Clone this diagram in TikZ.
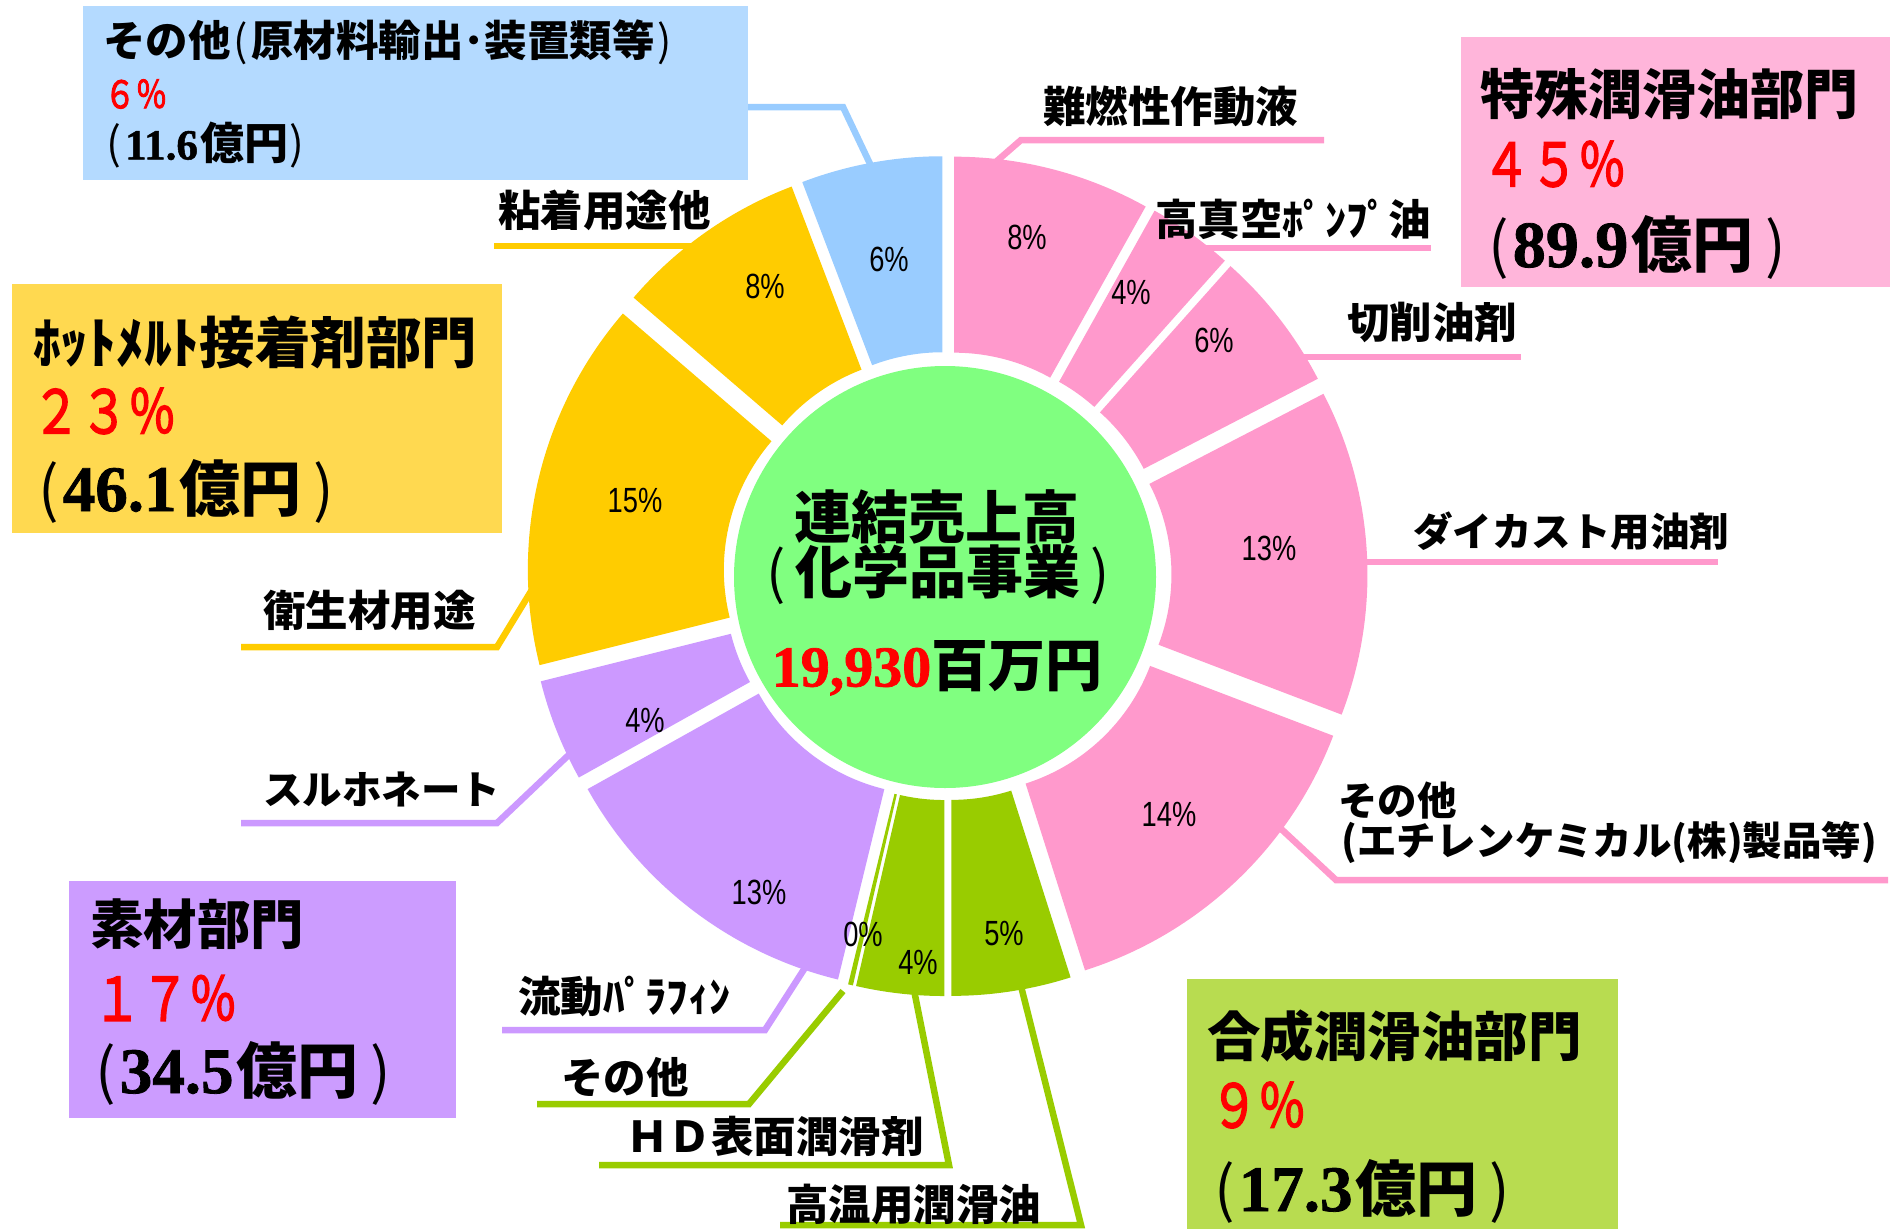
\documentclass[tikz,border=0pt]{standalone}
\usepackage{fontspec}
\usepackage{graphicx}
\newfontfamily\jp{Noto Sans CJK JP}
\newfontfamily\jpmed{Noto Sans CJK JP}[FakeBold=2.5]
\newfontfamily\tnrb{Liberation Serif Bold}[FakeBold=1.2]
\newfontfamily\arl{Liberation Sans}
\definecolor{pinkS}{HTML}{FF99CC}
\definecolor{pinkB}{HTML}{FFB5DA}
\definecolor{yelS}{HTML}{FFCC00}
\definecolor{yelB}{HTML}{FFD950}
\definecolor{purS}{HTML}{CC99FF}
\definecolor{purB}{HTML}{CC9CFF}
\definecolor{grnS}{HTML}{99CC00}
\definecolor{grnB}{HTML}{B8DC50}
\definecolor{bluS}{HTML}{99CCFF}
\definecolor{bluB}{HTML}{B4DAFF}
\definecolor{ctrG}{HTML}{80FF80}
\newcommand\fsz[1]{\fontsize{#1}{#1}\selectfont}
% annular sector, cumulative percent #1 -> #2, exploded
\newcommand\pieslice[3]{%
  \pgfmathsetmacro\ta{-90+3.6*#1}%
  \pgfmathsetmacro\tb{-90+3.6*#2}%
  \pgfmathsetmacro\tm{(\ta+\tb)/2}%
  \pgfmathsetmacro\sx{947.3+27*cos(\tm)}%
  \pgfmathsetmacro\sy{576+27*sin(\tm)}%
  \fill[#3] plot[domain=\ta:\tb,samples=90] ({\sx+393.2*cos(\x)},{\sy+393.2*sin(\x)})
     -- plot[domain=\tb:\ta,samples=60] ({\sx+197.2*cos(\x)},{\sy+197.2*sin(\x)}) -- cycle;%
}
% (amount 億円): #1 number, #2 number size, #3 kanji size, #4 kern before ")"
\newcommand\okuline[4]{{\jp\fsz{#3}(\kern4pt}{\tnrb\fsz{#2}#1}{\jp\bfseries\fsz{#3}\kern3pt 億円\kern#4}{\jp\fsz{#3})}}
\begin{document}
\begin{tikzpicture}[x=1pt,y=-1pt,
  lbl/.style={anchor=west,inner sep=0pt,font=\jp\bfseries\fsz{42.5}},
  lblk/.style={anchor=west,inner sep=0pt,font=\jp\bfseries\fsz{39.5}},
  pct/.style={inner sep=0pt,font=\arl\fsz{35}},
  lead/.style={line width=6.5pt},
  boxtitle/.style={anchor=west,inner sep=0pt,font=\jp\bfseries\fsz{53.5}},
  redpct/.style={anchor=west,inner sep=0pt,text=red,font=\jpmed\fsz{60}},
  amount/.style={anchor=west,inner sep=0pt},
  panel/.style={anchor=north west,inner sep=0pt,outer sep=0pt}]
\useasboundingbox (0,0) rectangle (1890,1229);
\fill[white] (0,0) rectangle (1890,1229);

% ---------- group boxes ----------
\node[panel,fill=bluB,minimum width=665,minimum height=174] (boxblue) at (83,6) {};
\node[panel,fill=pinkB,minimum width=429,minimum height=250] (boxpink) at (1461,37) {};
\node[panel,fill=yelB,minimum width=490,minimum height=249] (boxyel) at (12,284) {};
\node[panel,fill=purB,minimum width=387,minimum height=237] (boxpur) at (69,881) {};
\node[panel,fill=grnB,minimum width=431,minimum height=250] (boxgrn) at (1187,979) {};

% ---------- leader-line anchor points ----------
\coordinate (a1) at (990,167);  \coordinate (b1) at (1021,140); \coordinate (e1) at (1324,140);
\coordinate (a2) at (1200,248); \coordinate (e2) at (1431,248);
\coordinate (a3) at (1300,357); \coordinate (e3) at (1521,357);
\coordinate (a4) at (1360,562); \coordinate (e4) at (1718,562);
\coordinate (a5) at (1278,826); \coordinate (b5) at (1336,880); \coordinate (e5) at (1888,880);
\coordinate (a6) at (1020,982); \coordinate (b6) at (1081,1225); \coordinate (e6) at (780,1225);
\coordinate (a7) at (913,985);  \coordinate (b7) at (949,1165); \coordinate (e7) at (599,1165);
\coordinate (a8) at (843,991);  \coordinate (b8) at (749,1104); \coordinate (e8) at (537,1104);
\coordinate (a9) at (810,960);  \coordinate (b9) at (765,1030); \coordinate (e9) at (502,1030);
\coordinate (a10) at (575,749); \coordinate (b10) at (497,823); \coordinate (e10) at (241,823);
\coordinate (a11) at (533,588); \coordinate (b11) at (497,647); \coordinate (e11) at (241,647);
\coordinate (a12) at (700,246); \coordinate (e12) at (494,246);
\coordinate (a13) at (872,168); \coordinate (b13) at (843,107);

\draw[lead,pinkS] (a1) -- (b1) -- (e1);
\draw[lead,pinkS] (a2) -- (e2);
\draw[lead,pinkS] (a3) -- (e3);
\draw[lead,pinkS] (a4) -- (e4);
\draw[lead,pinkS] (a5) -- (b5) -- (e5);
\draw[lead,grnS] (a6) -- (b6) -- (e6);
\draw[lead,grnS] (a7) -- (b7) -- (e7);
\draw[lead,grnS] (a8) -- (b8) -- (e8);
\draw[lead,purS] (a9) -- (b9) -- (e9);
\draw[lead,purS] (a10) -- (b10) -- (e10);
\draw[lead,yelS] (a11) -- (b11) -- (e11);
\draw[lead,yelS] (a12) -- (e12);
\draw[lead,bluS] (a13) -- (b13) -- (boxblue.east |- b13);

% ---------- doughnut ----------
\pieslice{0}{8.1}{pinkS}
\pieslice{8.1}{11.6}{pinkS}
\pieslice{11.6}{17.4}{pinkS}
\pieslice{17.4}{30.8}{pinkS}
\pieslice{30.8}{45.1}{pinkS}
\pieslice{45.1}{50}{grnS}
\pieslice{50}{53.6}{grnS}
\pieslice{53.6}{53.8}{grnS}
\pieslice{53.8}{66.9}{purS}
\pieslice{66.9}{71.1}{purS}
\pieslice{71.1}{86.3}{yelS}
\pieslice{86.3}{94.2}{yelS}
\pieslice{94.2}{100}{bluS}

\node[circle,fill=ctrG,minimum size=422,inner sep=0pt] (ctr) at (945,577) {};

% ---------- slice percentages ----------
\node[pct] (p1) at (1027,237) {\scalebox{0.78}[1]{8\%}};
\node[pct] (p2) at (1131,292) {\scalebox{0.78}[1]{4\%}};
\node[pct] (p3) at (1214,340) {\scalebox{0.78}[1]{6\%}};
\node[pct] (p4) at (1269,548) {\scalebox{0.78}[1]{13\%}};
\node[pct] (p5) at (1169,814) {\scalebox{0.78}[1]{14\%}};
\node[pct] (p6) at (1004,934) {\scalebox{0.78}[1]{5\%}};
\node[pct] (p7) at (918,962) {\scalebox{0.78}[1]{4\%}};
\node[pct] (p8) at (863,934) {\scalebox{0.78}[1]{0\%}};
\node[pct] (p9) at (759,892) {\scalebox{0.78}[1]{13\%}};
\node[pct] (p10) at (645,720) {\scalebox{0.78}[1]{4\%}};
\node[pct] (p11) at (635,501) {\scalebox{0.78}[1]{15\%}};
\node[pct] (p12) at (765,286) {\scalebox{0.78}[1]{8\%}};
\node[pct] (p13) at (889,259) {\scalebox{0.78}[1]{6\%}};

% ---------- centre text ----------
\node[inner sep=0pt,font=\jp\bfseries\fsz{57}] (c1) at (937,517) {連結売上高};
\node[inner sep=0pt,font=\jp\bfseries\fsz{57}] (c2) at (938,575) {{\mdseries(}\kern10pt 化学品事業\kern10pt{\mdseries)}};
\node[inner sep=0pt] (c3) at (937,668) {{\tnrb\fsz{58}\color{red}19,930}{\jp\bfseries\fsz{57}百万円}};

% ---------- item labels ----------
\node[lbl] (l1) at (1043,106) {難燃性作動液};
\node[lbl] (l2) at (1155,219) {高真空ﾎﾟﾝﾌﾟ油};
\node[lbl] (l3) at (1347,322) {切削油剤};
\node[lblk] (l4) at (1413,531) {ダイカスト用油剤};
\node[lblk] (l5a) at (1338,801) {その他};
\node[lblk] (l5b) at (1341,842) {(エチレンケミカル(株)製品等)};
\node[lbl] (l6) at (786,1204) {高温用潤滑油};
\node[lbl] (l7) at (626,1136) {ＨＤ表面潤滑剤};
\node[lbl] (l8) at (561,1077) {その他};
\node[lbl] (l9) at (518,996) {流動ﾊﾟﾗﾌｨﾝ};
\node[lblk] (l10) at (263,789) {スルホネート};
\node[lbl] (l11) at (263,610) {衛生材用途};
\node[lbl] (l12) at (498,210) {粘着用途他};

% ---------- box texts ----------
\node[anchor=west,inner sep=0pt,font=\jp\bfseries\fsz{42.5}] (t13a) at (103,42) {その他{\mdseries\kern3pt(\kern3pt}原材料輸出･装置類等{\mdseries\kern3pt)}};
\node[redpct,font=\jpmed\fsz{38}] (t13b) at (104,94) {\scalebox{0.83}[1]{６％}};
\node[amount] (t13c) at (106,145) {\okuline{11.6}{43}{44}{1pt}};

\node[boxtitle,font=\jp\bfseries\fsz{54}] (t1a) at (1480,94) {特殊潤滑油部門};
\node[redpct] (t1b) at (1482,164) {\scalebox{0.8}[1]{４５％}};
\node[amount] (t1c) at (1488,247) {\okuline{89.9}{66}{61}{12pt}};

\node[boxtitle,font=\jp\bfseries\fsz{55.5}] (t2a) at (33,342) {ﾎｯﾄﾒﾙﾄ接着剤部門};
\node[redpct] (t2b) at (32,411) {\scalebox{0.8}[1]{２３％}};
\node[amount] (t2c) at (38,491) {\okuline{46.1}{65}{61}{12pt}};

\node[boxtitle] (t3a) at (90,924) {素材部門};
\node[redpct] (t3b) at (93,998) {\scalebox{0.8}[1]{１７％}};
\node[amount] (t3c) at (95,1073) {\okuline{34.5}{65}{61}{12pt}};

\node[boxtitle] (t4a) at (1207,1036) {合成潤滑油部門};
\node[redpct] (t4b) at (1210,1105) {\scalebox{0.8}[1]{９％}};
\node[amount] (t4c) at (1214,1191) {\okuline{17.3}{65}{61}{12pt}};
\end{tikzpicture}
\end{document}
